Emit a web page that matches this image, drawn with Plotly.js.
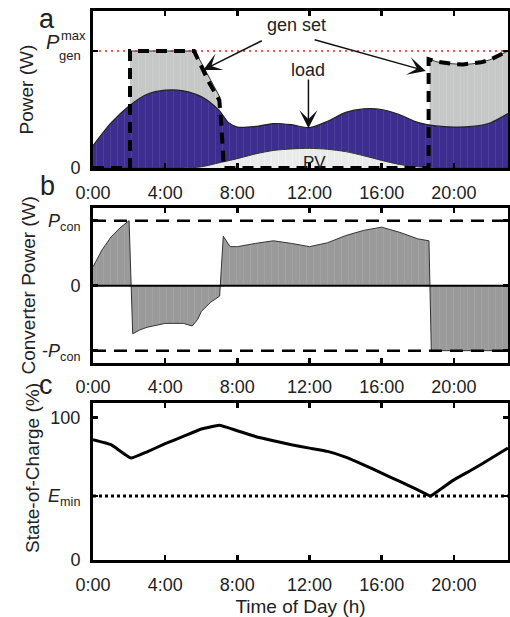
<!DOCTYPE html>
<html><head><meta charset="utf-8">
<script src="https://cdn.plot.ly/plotly-3.0.1.min.js"></script>
<style>body{margin:0;background:#fff}#chart{width:510px;height:617px}</style>
</head><body><div id="chart"></div>
<script>
// ---------- data ----------
const tickHours = [0, 4, 8, 12, 16, 20];
const tickLabels = ["0:00", "4:00", "8:00", "12:00", "16:00", "20:00"];
const dayRange = [0, 23];

const Pmax = 1.0;   // gen set max power (normalised)
const Pcon = 1.0;   // converter limit (normalised)
const Emin = 45;    // minimum state of charge (%)

// panel a
const hours = [0,1,2,3,4,5,6,7,7.5,8,9,10,11,12,13,14,15,16,17,18,19,20,21,22,23];
const load  = [0.19,0.385,0.53,0.63,0.665,0.66,0.61,0.49,0.39,0.35,0.355,0.38,0.37,0.345,0.40,0.475,0.505,0.50,0.455,0.39,0.36,0.35,0.355,0.385,0.465];
const pv    = [0,0,0,0,0,0,0.01,0.045,0.062,0.08,0.12,0.15,0.163,0.168,0.16,0.14,0.105,0.065,0.03,0.01,0,0,0,0,0];

const genMorningHours = [2.05,5.65,7.05];
const genMorning      = [1.0,1.0,0.6];
const genEveningHours = [18.65,19,19.5,20,20.5,21,21.5,22,22.5,23];
const genEvening      = [0.93,0.91,0.895,0.888,0.885,0.89,0.903,0.925,0.96,1.0];

const genHours = [0,2.05,2.05,5.6,6.4,7.0,7.1,7.25,18.6,18.6,19,19.5,20,20.5,21,21.5,22,22.5,23];
const genPower = [0,0,1.0,1.0,0.74,0.58,0.4,0,0,0.93,0.91,0.895,0.888,0.885,0.89,0.903,0.925,0.96,1.0];

// panel b
const convHours = [0,0.5,1,1.5,2,2.2,2.6,3,4,5,5.5,5.8,6,6.5,7.02,7.22,7.6,8,9,10,11,12,13,14,15,16,17,18,18.62,18.75,19,20,21,22,23];
const convPower = [0.29,0.55,0.75,0.89,1.0,-0.74,-0.68,-0.64,-0.58,-0.58,-0.62,-0.52,-0.40,-0.26,-0.16,0.76,0.60,0.60,0.65,0.69,0.65,0.60,0.66,0.77,0.85,0.90,0.82,0.72,0.69,-1.0,-1.0,-1.0,-1.0,-1.0,-1.0];

// panel c
const socHours = [0,1,2.1,3,4,5,6,7,8,9,10,11,12,13,14,15,16,17,18,18.7,19,20,21,22,23];
const soc      = [84.5,81,71.6,76,81.7,86.8,92,94.6,90.8,86.8,83.8,81,78.6,76.3,72.3,66.9,61,55.2,49.3,45,47.4,56.3,63.4,70.9,78.6];

// ---------- layout helpers (pixel -> paper) ----------
const L = 93, R = 508, T = 11, B = 560;
const px = v => (v - L) / (R - L);
const py = v => (B - v) / (B - T);

const txt = '#222';
const FONT = 'Liberation Sans, Arial, Helvetica, sans-serif';
const stripes = (bg, fg) => ({shape:'|', size:7, solidity:0.1, fgcolor:fg, bgcolor:bg});

const genFill = (xs, ys) => ({x: xs, y: ys, xaxis:'x', yaxis:'y', mode:'lines', fill:'tozeroy',
   fillcolor:'#c6c8c8', line:{color:'#333', width:1}, fillpattern: stripes('#c6c8c8', '#d0d2d2')});

const traces = [
  // panel a
  genFill(genMorningHours, genMorning),
  genFill(genEveningHours, genEvening),
  {x: hours, y: load, xaxis:'x', yaxis:'y', mode:'lines', fill:'tozeroy',
   fillcolor:'#3d2d8f', line:{color:'#222', width:1.2, shape:'spline', smoothing:0.8},
   fillpattern: stripes('#3d2d8f', '#5547a2')},
  {x: hours, y: pv, xaxis:'x', yaxis:'y', mode:'lines', fill:'tozeroy',
   fillcolor:'#e9ebeb', line:{color:'#333', width:1, shape:'spline', smoothing:0.8},
   fillpattern: stripes('#e9ebeb', '#f4f5f5')},
  {x: dayRange, y: [Pmax, Pmax], xaxis:'x', yaxis:'y', mode:'lines',
   line:{color:'#e3261d', width:1.5, dash:'2px,4px'}},
  {x: genHours, y: genPower, xaxis:'x', yaxis:'y', mode:'lines',
   line:{color:'#000', width:4, dash:'11px,7px'}},
  // panel b
  {x: convHours, y: convPower, xaxis:'x2', yaxis:'y2', mode:'lines', fill:'tozeroy',
   fillcolor:'#9a9a9a', line:{color:'#333', width:1}, fillpattern: stripes('#9a9a9a', '#a6a6a6')},
  {x: dayRange, y: [0, 0], xaxis:'x2', yaxis:'y2', mode:'lines', line:{color:'#000', width:2}},
  {x: dayRange, y: [Pcon, Pcon], xaxis:'x2', yaxis:'y2', mode:'lines', line:{color:'#000', width:2.5, dash:'13px,8px'}},
  {x: dayRange, y: [-Pcon, -Pcon], xaxis:'x2', yaxis:'y2', mode:'lines', line:{color:'#000', width:2.5, dash:'13px,8px'}},
  // panel c
  {x: dayRange, y: [Emin, Emin], xaxis:'x3', yaxis:'y3', mode:'lines', line:{color:'#000', width:3, dash:'3px,3px'}},
  {x: socHours, y: soc, xaxis:'x3', yaxis:'y3', mode:'lines', line:{color:'#000', width:3, shape:'spline', smoothing:0.3}}
];

const xCommon = {
  range: dayRange, tickvals: tickHours, ticktext: tickLabels,
  showline:true, linecolor:'#000', linewidth:3, mirror:'ticks',
  ticks:'inside', ticklen:5, tickwidth:2.5, tickcolor:'#000',
  showgrid:false, zeroline:false, ticklabelstandoff:6,
  tickfont:{family:FONT, size:18, color:txt}
};
const yCommon = {
  showline:true, linecolor:'#000', linewidth:3, mirror:'ticks',
  ticks:'inside', ticklen:5, tickwidth:2.5, tickcolor:'#000',
  showgrid:false, zeroline:false, ticklabelstandoff:6,
  tickfont:{family:FONT, size:18, color:txt}
};

const ann = (x, y, text, size, extra) => Object.assign({
  xref:'paper', yref:'paper', x: px(x), y: py(y), text, showarrow:false,
  font:{family:FONT, size, color:txt}, xanchor:'center', yanchor:'middle'
}, extra || {});

const annotations = [
  ann(47, 19, 'a', 27), ann(47, 186, 'b', 27), ann(46, 385, 'c', 27),
  ann(26, 89.5, 'Power (W)', 19, {textangle:-90}),
  ann(28, 285.5, 'Converter Power (W)', 19, {textangle:-90}),
  ann(32, 468, 'State-of-Charge (%)', 19, {textangle:-90}),
  ann(53, 42, '<i>P</i>', 20),
  ann(73, 36, 'max', 13),
  ann(70, 56, 'gen', 13),
  // in-plot labels (panel a)
  {xref:'x', yref:'y', x:11.28, y:1.22, text:'gen set', showarrow:false, font:{family:FONT, size:18, color:txt}},
  {xref:'x', yref:'y', x:11.94, y:0.84, text:'load', showarrow:false, font:{family:FONT, size:18, color:txt}},
  {xref:'x', yref:'y', x:12.3, y:0.05, text:'PV', showarrow:false, font:{family:FONT, size:17, color:txt}},
  {xref:'x', yref:'y', axref:'x', ayref:'y', x:6.11, y:0.838, ax:9.44, ay:1.094, text:'', showarrow:true,
   arrowhead:3, arrowsize:2, arrowwidth:1.5, arrowcolor:'#111'},
  {xref:'x', yref:'y', axref:'x', ayref:'y', x:18.44, y:0.83, ax:12.2, ay:1.10, text:'', showarrow:true,
   arrowhead:3, arrowsize:2, arrowwidth:1.5, arrowcolor:'#111'},
  {xref:'x', yref:'y', axref:'x', ayref:'y', x:11.94, y:0.34, ax:11.94, ay:0.77, text:'', showarrow:true,
   arrowhead:3, arrowsize:2, arrowwidth:1.5, arrowcolor:'#111'}
];

const layout = {
  width:510, height:617, showlegend:false,
  paper_bgcolor:'#fff', plot_bgcolor:'#fff',
  margin:{l:L, r:510-R, t:T, b:617-B},
  font:{family:FONT, color:txt},
  xaxis: Object.assign({}, xCommon, {anchor:'y'}),
  xaxis2: Object.assign({}, xCommon, {anchor:'y2'}),
  xaxis3: Object.assign({}, xCommon, {anchor:'y3',
    title:{text:'Time of Day (h)', font:{family:FONT, size:19, color:txt}, standoff:8}}),
  yaxis: Object.assign({}, yCommon, {domain:[py(168), 1], range:[0, 1.342],
    tickvals:[0, Pmax], ticktext:['0', ' ']}),
  yaxis2: Object.assign({}, yCommon, {domain:[py(362.7), py(208.3)], range:[-1.185, 1.19],
    tickvals:[-Pcon, 0, Pcon], ticktext:['-<i>P</i><sub>con</sub>', '0', '<i>P</i><sub>con</sub>']}),
  yaxis3: Object.assign({}, yCommon, {domain:[0, py(402.7)], range:[0, 110.5],
    tickvals:[0, Emin, 100], ticktext:['0', '<i>E</i><sub>min</sub>', '100']}),
  annotations
};

Plotly.newPlot('chart', traces, layout, {staticPlot:true, displayModeBar:false});
</script></body></html>
